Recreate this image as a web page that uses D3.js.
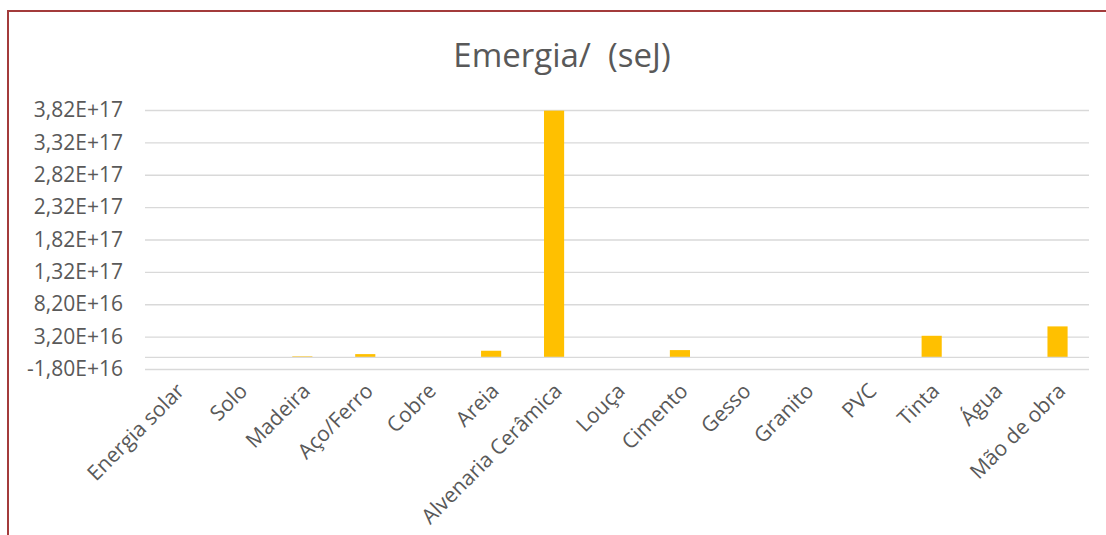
<!DOCTYPE html>
<html>
<head>
<meta charset="utf-8">
<script src="https://cdn.jsdelivr.net/npm/d3@7"></script>
<style>
  html, body { margin: 0; padding: 0; background: #fff; }
  svg { display: block; }
  text { font-family: "Open Sans", "Noto Sans", sans-serif; fill: #595959; }
</style>
</head>
<body>
<svg id="chart" width="1106" height="535"></svg>
<script>
const title = "Emergia/\u00a0\u00a0(seJ)";
const categories = ["Energia solar", "Solo", "Madeira", "Aço/Ferro", "Cobre", "Areia",
  "Alvenaria Cerâmica", "Louça", "Cimento", "Gesso", "Granito", "PVC", "Tinta", "Água", "Mão de obra"];
const values = [0, 0, 1.5e15, 5.0e15, 0, 1.02e16, 3.81e17, 0, 1.12e16, 0, 0, 0, 3.33e16, 0, 4.78e16];
const yTickValues = [-1.8e16, 3.2e16, 8.2e16, 1.32e17, 1.82e17, 2.32e17, 2.82e17, 3.32e17, 3.82e17];
const yTickLabels = ["-1,80E+16", "3,20E+16", "8,20E+16", "1,32E+17", "1,82E+17", "2,32E+17", "2,82E+17", "3,32E+17", "3,82E+17"];

const svg = d3.select("#chart");
const plot = { left: 145, right: 1089, top: 110, bottom: 369 };

// border
svg.append("rect")
  .attr("x", 8).attr("y", 11).attr("width", 1120).attr("height", 560)
  .attr("fill", "none").attr("stroke", "#A33B3B").attr("stroke-width", 2);

// title
svg.append("text")
  .attr("x", 562).attr("y", 67)
  .attr("text-anchor", "middle")
  .attr("font-size", 33)
  .text(title);

const x = d3.scaleBand().domain(categories).range([plot.left, plot.right]).paddingInner(0.68).paddingOuter(0.34);
const y = d3.scaleLinear().domain([yTickValues[0], yTickValues[yTickValues.length - 1]]).range([plot.bottom, plot.top]);

// gridlines
svg.append("g")
  .attr("transform", `translate(${plot.left},0)`)
  .call(d3.axisLeft(y).tickValues(yTickValues).tickSize(-(plot.right - plot.left)).tickFormat(""))
  .call(g => g.select(".domain").remove())
  .call(g => g.selectAll("line").attr("stroke", "#D9D9D9").attr("stroke-width", 1.3));

// y labels
svg.append("g")
  .attr("transform", `translate(${plot.left},0)`)
  .call(d3.axisLeft(y).tickValues(yTickValues).tickSize(0).tickPadding(22)
    .tickFormat((d, i) => yTickLabels[i]))
  .call(g => g.select(".domain").remove())
  .call(g => g.selectAll("text").attr("font-size", 21).attr("fill", "#595959")
    .style("font-family", "'Open Sans', sans-serif"));

// bars
svg.append("g").selectAll("rect")
  .data(categories)
  .join("rect")
  .attr("x", d => x(d))
  .attr("width", x.bandwidth())
  .attr("y", (d, i) => y(Math.max(0, values[i])))
  .attr("height", (d, i) => Math.abs(y(values[i]) - y(0)))
  .attr("fill", "#FFC000");

// zero axis line
svg.append("line")
  .attr("x1", plot.left).attr("x2", plot.right)
  .attr("y1", y(0)).attr("y2", y(0))
  .attr("stroke", "#D9D9D9").attr("stroke-width", 1.3);

// x labels
const xAxis = svg.append("g")
  .attr("transform", `translate(0,${plot.bottom})`)
  .call(d3.axisBottom(x).tickSize(0).tickPadding(0))
  .call(g => g.select(".domain").remove());
xAxis.selectAll("text")
  .attr("font-size", 21)
  .attr("fill", "#595959")
  .style("font-family", "'Open Sans', sans-serif")
  .attr("text-anchor", "end")
  .attr("dy", "0.35em")
  .attr("transform", "translate(4,18) rotate(-45)");
</script>
</body>
</html>
